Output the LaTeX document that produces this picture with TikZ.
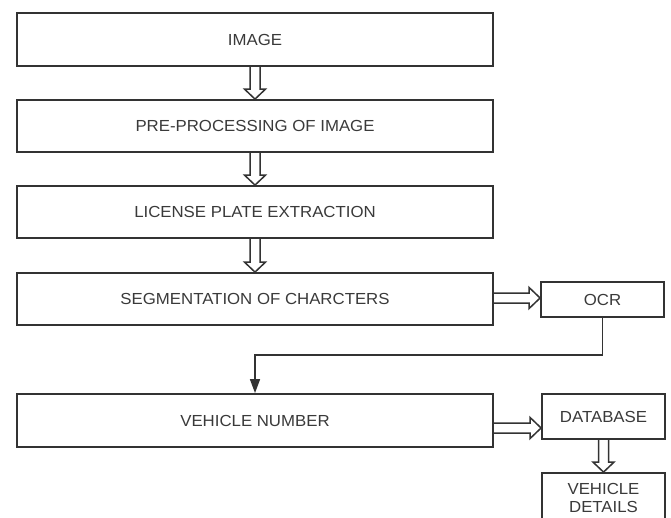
\documentclass[tikz,border=0pt]{standalone}
\usepackage{fontspec}
\setmainfont{Liberation Sans}[FakeStretch=1.05]
\usetikzlibrary{arrows.meta,calc}
\definecolor{linec}{HTML}{333333}
\definecolor{textc}{HTML}{3A3A3A}
\begin{document}
\begin{tikzpicture}[x=1pt,y=-1pt,
  box/.style={draw=linec, line width=1.8pt, rectangle, inner sep=0pt,
    text=textc, font=\fontsize{16}{18}\selectfont, align=center},
  wide/.style={box, minimum width=476pt, minimum height=52pt},
  small/.style={box, minimum width=123pt},
  dblv/.style={draw=linec, line width=1.5pt, line join=miter,
    to path={let \p1=(\tikztostart), \p2=(\tikztotarget) in
      (\x1-5pt,\y1) -- (\x1-5pt,\y2+10pt) -- (\x1-10.5pt,\y2+10pt) -- (\x1,\y2)
      -- (\x1+10.5pt,\y2+10pt) -- (\x1+5pt,\y2+10pt) -- (\x1+5pt,\y1)}},
  dblh/.style={draw=linec, line width=1.5pt, line join=miter,
    to path={let \p1=(\tikztostart), \p2=(\tikztotarget) in
      (\x1,\y1+5pt) -- (\x2-11pt,\y1+5pt) -- (\x2-11pt,\y1+10.5pt) -- (\x2,\y1)
      -- (\x2-11pt,\y1-10.5pt) -- (\x2-11pt,\y1-5pt) -- (\x1,\y1-5pt)}},
  conn/.style={draw=linec, line width=1.5pt, -{Triangle[length=14pt,width=10pt]}}
]
\useasboundingbox (0,0) rectangle (671,518);
\fill[white] (0,0) rectangle (671,518);
\clip (0,0) rectangle (671,518);

\node[wide, minimum height=53pt] (img) at (255,39.5) {IMAGE};
\node[wide] (pre) at (255,126) {PRE-PROCESSING OF IMAGE};
\node[wide] (lic) at (255,212) {LICENSE PLATE EXTRACTION};
\node[wide] (seg) at (255,299) {SEGMENTATION OF CHARCTERS};
\node[wide, minimum height=53pt] (veh) at (255,420.5) {VEHICLE NUMBER};
\node[small, minimum height=35pt] (ocr) at (602.5,299.5) {OCR};
\node[small, minimum height=45pt] (db) at (603.5,416.5) {DATABASE};
\node[small, minimum height=50pt] (vd) at (603.5,498) {VEHICLE\\DETAILS};

\draw[dblv] (img.south) to (pre.north);
\draw[dblv] (pre.south) to (lic.north);
\draw[dblv] (lic.south) to (seg.north);
\draw[dblh] ([yshift=1pt]seg.east) to (ocr.west);
\draw[dblh] ([yshift=-7.5pt]veh.east) to (db.west);
\draw[dblv] (db.south) to (vd.north);

\coordinate (elbow) at (430,355);
\draw[conn] (ocr.south) |- (elbow) -| (veh.north);
\end{tikzpicture}
\end{document}
